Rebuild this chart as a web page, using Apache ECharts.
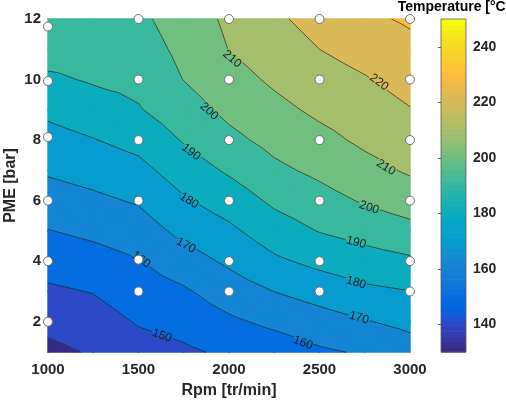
<!DOCTYPE html>
<html>
<head>
<meta charset="utf-8">
<script src="https://cdn.jsdelivr.net/npm/echarts@6/dist/echarts.min.js"></script>
<style>
html, body { margin: 0; padding: 0; background: #fff; }
#chart { width: 506px; height: 404px; }
</style>
</head>
<body>
<div id="chart"></div>
<script>
// grid of the map
var rpm = [1000, 1250, 1500, 1750, 2000, 2250, 2500, 2750, 3000];
var pme = [1, 2, 3, 4, 5, 6, 7, 8, 9, 10, 11, 12];
// temperature, one row per pme value (from 1 bar up to 12 bar)
var temp = [
  [137.5, 141.0, 146.0, 148.4, 151.7, 154.4, 158.6, 161.0, 165.5],
  [142.9, 145.7, 150.8, 153.5, 158.3, 162.2, 165.9, 169.4, 172.6],
  [148.4, 150.4, 155.2, 158.7, 165.0, 170.1, 174.0, 177.9, 179.8],
  [154.0, 156.2, 159.5, 165.7, 171.7, 178.3, 182.6, 185.9, 188.4],
  [159.7, 162.1, 165.2, 172.7, 178.0, 185.3, 190.4, 193.6, 197.0],
  [165.5, 168.0, 171.0, 178.9, 184.6, 191.8, 196.4, 201.0, 204.8],
  [171.2, 173.8, 177.1, 184.9, 191.3, 197.9, 202.1, 206.9, 211.2],
  [176.5, 179.6, 183.2, 190.7, 197.5, 202.9, 207.2, 211.8, 215.4],
  [182.1, 185.6, 189.3, 195.6, 202.4, 207.4, 211.9, 215.5, 219.6],
  [188.3, 191.0, 192.6, 200.2, 206.4, 211.5, 216.0, 219.3, 223.5],
  [194.4, 194.5, 195.5, 202.4, 210.2, 214.9, 220.0, 223.6, 227.4],
  [198.0, 198.0, 198.0, 204.5, 211.9, 218.3, 223.5, 228.1, 231.3]
];
var levels = [130, 140, 150, 160, 170, 180, 190, 200, 210, 220, 230, 240];
var pmeTicks = [2, 4, 6, 8, 10, 12];
var colorTicks = [140, 160, 180, 200, 220, 240];
var cMin = 130, cMax = 250;

// measuring points
var measRpm = [1000, 1000, 1000, 1000, 1000, 1000,
  1500, 1500, 1500, 1500, 1500, 1500,
  2000, 2000, 2000, 2000, 2000, 2000,
  2500, 2500, 2500, 2500, 2500, 2500,
  3000, 3000, 3000, 3000, 3000, 3000];
var measPme = [2, 4, 6, 8.1, 9.95, 11.75,
  3, 4.05, 6, 8, 10, 12,
  3, 4, 6, 8, 10, 12,
  3, 4, 6, 8, 10, 12,
  3, 4, 6, 8, 10, 12];

// contour labels: rpm, pme, level
var labelRpm = [1890, 1790, 2017, 2829, 2867, 2774, 2702, 2702, 2718, 2409, 1779, 1762, 1514, 1630];
var labelPme = [8.95, 7.6, 10.68, 9.91, 7.1, 5.77, 4.62, 3.29, 2.13, 1.30, 6.0, 4.52, 4.05, 1.54];
var labelLevel = [200, 190, 210, 220, 210, 200, 190, 180, 170, 160, 180, 170, 160, 150];

var parula = [
  [0.2081,0.1663,0.5292],[0.2116,0.1898,0.5777],[0.2123,0.2138,0.6270],[0.2081,0.2386,0.6771],
  [0.1959,0.2645,0.7279],[0.1707,0.2919,0.7792],[0.1253,0.3242,0.8303],[0.0591,0.3598,0.8683],
  [0.0117,0.3875,0.8820],[0.0060,0.4086,0.8828],[0.0165,0.4266,0.8786],[0.0329,0.4430,0.8720],
  [0.0498,0.4586,0.8641],[0.0629,0.4737,0.8554],[0.0723,0.4887,0.8467],[0.0779,0.5040,0.8384],
  [0.0793,0.5200,0.8312],[0.0749,0.5375,0.8263],[0.0641,0.5570,0.8240],[0.0488,0.5772,0.8228],
  [0.0343,0.5966,0.8199],[0.0265,0.6137,0.8135],[0.0239,0.6287,0.8038],[0.0231,0.6418,0.7913],
  [0.0228,0.6535,0.7768],[0.0267,0.6642,0.7607],[0.0384,0.6743,0.7436],[0.0590,0.6838,0.7254],
  [0.0843,0.6928,0.7062],[0.1133,0.7015,0.6859],[0.1453,0.7098,0.6646],[0.1801,0.7177,0.6424],
  [0.2178,0.7250,0.6193],[0.2586,0.7317,0.5954],[0.3022,0.7376,0.5712],[0.3482,0.7424,0.5473],
  [0.3953,0.7459,0.5244],[0.4420,0.7481,0.5033],[0.4871,0.7491,0.4840],[0.5300,0.7491,0.4661],
  [0.5709,0.7485,0.4494],[0.6099,0.7473,0.4337],[0.6473,0.7456,0.4188],[0.6834,0.7435,0.4044],
  [0.7184,0.7411,0.3905],[0.7525,0.7384,0.3768],[0.7858,0.7356,0.3633],[0.8185,0.7327,0.3498],
  [0.8507,0.7299,0.3360],[0.8824,0.7274,0.3217],[0.9139,0.7258,0.3063],[0.9450,0.7261,0.2886],
  [0.9739,0.7314,0.2666],[0.9938,0.7455,0.2403],[0.9990,0.7653,0.2164],[0.9955,0.7861,0.1967],
  [0.9880,0.8066,0.1794],[0.9789,0.8271,0.1633],[0.9697,0.8481,0.1475],[0.9626,0.8705,0.1309],
  [0.9589,0.8949,0.1132],[0.9598,0.9218,0.0948],[0.9661,0.9514,0.0755],[0.9763,0.9831,0.0538]
];

function rgb(c) {
  return 'rgb(' + Math.round(c[0] * 255) + ',' + Math.round(c[1] * 255) + ',' + Math.round(c[2] * 255) + ')';
}
function colorOf(v) {
  var k = Math.floor((v - cMin) / (cMax - cMin) * parula.length);
  k = Math.max(0, Math.min(parula.length - 1, k));
  return rgb(parula[k]);
}

function field(x, y) {
  var i = 0, j = 0;
  while (i < rpm.length - 2 && x > rpm[i + 1]) i++;
  while (j < pme.length - 2 && y > pme[j + 1]) j++;
  var u = (x - rpm[i]) / (rpm[i + 1] - rpm[i]);
  var w = (y - pme[j]) / (pme[j + 1] - pme[j]);
  return temp[j][i] * (1 - u) * (1 - w) + temp[j][i + 1] * u * (1 - w) +
    temp[j + 1][i] * (1 - u) * w + temp[j + 1][i + 1] * u * w;
}

// cells split into 4 triangles around the centre
function cellTriangles(i, j) {
  var a = { x: rpm[i], y: pme[j], v: temp[j][i] };
  var b = { x: rpm[i + 1], y: pme[j], v: temp[j][i + 1] };
  var c = { x: rpm[i + 1], y: pme[j + 1], v: temp[j + 1][i + 1] };
  var d = { x: rpm[i], y: pme[j + 1], v: temp[j + 1][i] };
  var m = { x: (a.x + b.x) / 2, y: (a.y + d.y) / 2, v: (a.v + b.v + c.v + d.v) / 4 };
  return [[a, b, m], [b, c, m], [c, d, m], [d, a, m]];
}

function lerp(p, q, L) {
  var t = (L - p.v) / (q.v - p.v);
  return { x: p.x + t * (q.x - p.x), y: p.y + t * (q.y - p.y), v: L };
}

// keep the part of a polygon above (or below) the level L
function clip(poly, L, above) {
  var out = [];
  for (var k = 0; k < poly.length; k++) {
    var p = poly[k], q = poly[(k + 1) % poly.length];
    var pin = above ? p.v >= L : p.v <= L;
    var qin = above ? q.v >= L : q.v <= L;
    if (pin && qin) out.push(q);
    else if (pin && !qin) out.push(lerp(p, q, L));
    else if (!pin && qin) { out.push(lerp(p, q, L)); out.push(q); }
  }
  return out;
}

var cells = [];
for (var j = 0; j < pme.length - 1; j++) {
  for (var i = 0; i < rpm.length - 1; i++) {
    cells.push([rpm[i], pme[j], i, j]);
  }
}

var bars = [];
for (var k = 0; k < parula.length; k++) {
  bars.push([0, cMin + k * (cMax - cMin) / parula.length, k]);
}

var labelData = [];
for (var n = 0; n < labelRpm.length; n++) {
  labelData.push([labelRpm[n], labelPme[n], labelLevel[n]]);
}

function renderFill(params, api) {
  var tris = cellTriangles(api.value(2), api.value(3));
  var children = [];
  levels.forEach(function (lo, b) {
    var hi = b < levels.length - 1 ? levels[b + 1] : Infinity;
    var col = colorOf(lo);
    tris.forEach(function (tri) {
      var poly = b > 0 ? clip(tri, lo, true) : tri;
      if (poly.length < 3) return;
      if (hi < Infinity) poly = clip(poly, hi, false);
      if (poly.length < 3) return;
      children.push({
        type: 'polygon',
        shape: { points: poly.map(function (p) { return api.coord([p.x, p.y]); }) },
        style: { fill: col, stroke: col, lineWidth: 1.4, lineJoin: 'round' }
      });
    });
  });
  return { type: 'group', children: children };
}

function cutSegment(p, q, centers, r) {
  var pieces = [[0, 1]];
  centers.forEach(function (c) {
    var dx = q[0] - p[0], dy = q[1] - p[1];
    var fx = p[0] - c[0], fy = p[1] - c[1];
    var A = dx * dx + dy * dy, B = 2 * (fx * dx + fy * dy), C = fx * fx + fy * fy - r * r;
    var disc = B * B - 4 * A * C;
    if (A === 0 || disc <= 0) return;
    var s = Math.sqrt(disc);
    var t1 = (-B - s) / (2 * A), t2 = (-B + s) / (2 * A);
    var next = [];
    pieces.forEach(function (pc) {
      if (pc[0] < t1) next.push([pc[0], Math.min(pc[1], t1)]);
      if (pc[1] > t2) next.push([Math.max(pc[0], t2), pc[1]]);
    });
    pieces = next;
  });
  return pieces.filter(function (pc) { return pc[1] - pc[0] > 1e-6; }).map(function (pc) {
    return [[p[0] + pc[0] * (q[0] - p[0]), p[1] + pc[0] * (q[1] - p[1])],
            [p[0] + pc[1] * (q[0] - p[0]), p[1] + pc[1] * (q[1] - p[1])]];
  });
}

function renderLines(params, api) {
  var tris = cellTriangles(api.value(2), api.value(3));
  var children = [];
  levels.forEach(function (L) {
    var centers = [];
    labelData.forEach(function (d) {
      if (d[2] === L) centers.push(api.coord([d[0], d[1]]));
    });
    tris.forEach(function (tri) {
      var pts = [];
      for (var e = 0; e < 3; e++) {
        var p = tri[e], q = tri[(e + 1) % 3];
        if ((p.v >= L) !== (q.v >= L)) pts.push(lerp(p, q, L));
      }
      if (pts.length !== 2) return;
      var a = api.coord([pts[0].x, pts[0].y]);
      var b = api.coord([pts[1].x, pts[1].y]);
      cutSegment(a, b, centers, 11).forEach(function (s) {
        children.push({
          type: 'line',
          shape: { x1: s[0][0], y1: s[0][1], x2: s[1][0], y2: s[1][1] },
          style: { stroke: '#1e1e1e', lineWidth: 0.7 }
        });
      });
    });
  });
  return { type: 'group', children: children };
}

function renderLabel(params, api) {
  var x = api.value(0), y = api.value(1), L = api.value(2);
  var c = api.coord([x, y]);
  var cx = api.coord([x + 20, y]), cy = api.coord([x, y + 0.1]);
  var gx = (field(x + 10, y) - field(x - 10, y)) / (cx[0] - c[0]);
  var gy = (field(x, y + 0.05) - field(x, y - 0.05)) / (cy[1] - c[1]);
  var tx = -gy, ty = gx;
  var ang = Math.atan2(-ty, tx);
  if (ang > Math.PI / 2) ang -= Math.PI;
  if (ang < -Math.PI / 2) ang += Math.PI;
  return {
    type: 'text',
    x: c[0], y: c[1],
    rotation: ang,
    style: {
      text: String(L),
      fill: '#1e1e1e',
      font: '12px "Liberation Sans", Arial, sans-serif',
      align: 'center',
      verticalAlign: 'middle'
    }
  };
}

function renderBar(params, api) {
  var lo = api.value(1);
  var hi = lo + (cMax - cMin) / parula.length;
  var p0 = api.coord([0, lo]);
  var p1 = api.coord([1, hi]);
  return {
    type: 'rect',
    shape: { x: p0[0], y: p1[1], width: p1[0] - p0[0], height: p0[1] - p1[1] + 0.6 },
    style: { fill: rgb(parula[api.value(2)]) }
  };
}

var font = '"Liberation Sans", Arial, sans-serif';
var txt = '#262626';

var chart = echarts.init(document.getElementById('chart'));
var option = {
  animation: false,
  grid: [
    { left: 48, top: 19, width: 362, height: 333, outerBoundsMode: 'none', containLabel: false },
    { left: 441, top: 19, width: 25, height: 333, show: true, z: 5, outerBoundsMode: 'none',
      containLabel: false, backgroundColor: 'transparent', borderColor: '#5a5a5a', borderWidth: 0.8 }
  ],
  graphic: [{
    type: 'text', x: 454, y: 7,
    style: { text: 'Temperature [°C]', fill: '#000', font: 'bold 14px ' + font,
      align: 'center', verticalAlign: 'middle' }
  }],
  xAxis: [
    {
      gridIndex: 0, type: 'value', min: 1000, max: 3000, interval: 500,
      axisLine: { show: false }, axisTick: { show: false }, splitLine: { show: false },
      axisLabel: { fontSize: 15, fontWeight: 'bold', color: txt, fontFamily: font, margin: 10,
        formatter: function (v) { return String(v); } },
      name: 'Rpm [tr/min]', nameLocation: 'middle', nameGap: 31, nameMoveOverlap: false,
      nameTextStyle: { fontSize: 16, fontWeight: 'bold', color: txt, fontFamily: font }
    },
    { gridIndex: 1, type: 'value', min: 0, max: 1, show: false }
  ],
  yAxis: [
    {
      gridIndex: 0, type: 'value', min: 1, max: 12,
      axisLine: { show: true, lineStyle: { color: '#9a9a9a', width: 1 } },
      axisTick: { show: false }, splitLine: { show: false },
      axisLabel: { customValues: pmeTicks, fontSize: 15, fontWeight: 'bold', color: txt,
        fontFamily: font, margin: 7 },
      name: 'PME [bar]', nameLocation: 'middle', nameGap: 29, nameRotate: 90,
      nameMoveOverlap: false,
      nameTextStyle: { fontSize: 16, fontWeight: 'bold', color: txt, fontFamily: font }
    },
    {
      gridIndex: 1, type: 'value', min: cMin, max: cMax, position: 'right',
      axisLine: { show: false }, splitLine: { show: false },
      axisTick: { show: true, inside: true, length: 3, customValues: colorTicks,
        lineStyle: { color: '#333', width: 0.8 } },
      axisLabel: { customValues: colorTicks, fontSize: 14, fontWeight: 'bold', color: txt,
        fontFamily: font, margin: 7 }
    }
  ],
  series: [
    {
      type: 'custom', xAxisIndex: 0, yAxisIndex: 0, renderItem: renderFill,
      data: cells, silent: true, z: 1
    },
    {
      type: 'custom', xAxisIndex: 0, yAxisIndex: 0, renderItem: renderLines,
      data: cells, silent: true, z: 3
    },
    {
      type: 'custom', xAxisIndex: 0, yAxisIndex: 0, renderItem: renderLabel,
      data: labelData, silent: true, z: 4
    },
    {
      type: 'scatter', xAxisIndex: 0, yAxisIndex: 0, clip: false, silent: true, z: 6,
      symbol: 'circle', symbolSize: 9,
      itemStyle: { color: '#fff', borderColor: '#6e6e6e', borderWidth: 1, opacity: 1 },
      data: measRpm.map(function (r, n) { return [r, measPme[n]]; })
    },
    {
      type: 'custom', xAxisIndex: 1, yAxisIndex: 1, renderItem: renderBar,
      data: bars, silent: true, z: 1
    }
  ]
};
chart.setOption(option);
window.addEventListener('resize', function () {
  chart.resize();
});
</script>
</body>
</html>
